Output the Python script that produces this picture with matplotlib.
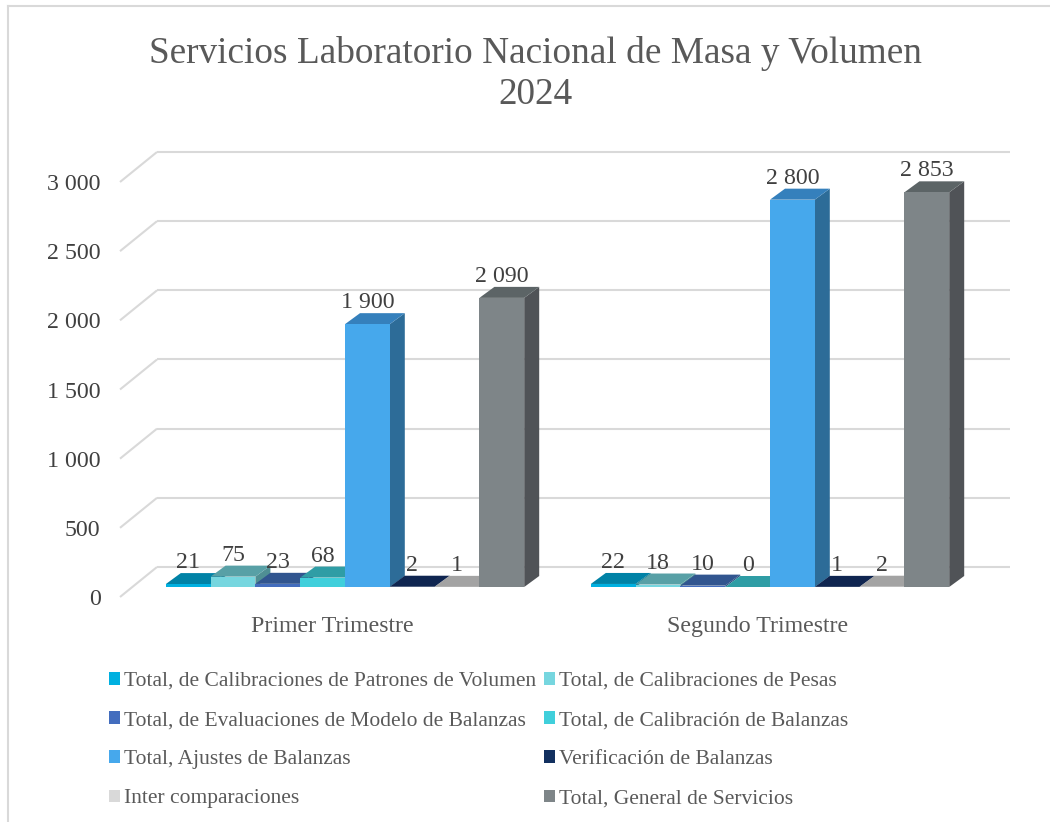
import matplotlib
matplotlib.use("Agg")
import matplotlib.pyplot as plt
from matplotlib.patches import Polygon, Rectangle

plt.rcParams['font.family'] = ['Liberation Serif', 'DejaVu Serif']

# ---- data ----
title = "Servicios Laboratorio Nacional de Masa y Volumen\n2024"
categories = ["Primer Trimestre", "Segundo Trimestre"]
series_names = [
    "Total, de Calibraciones de Patrones de Volumen",
    "Total, de Calibraciones de Pesas",
    "Total, de Evaluaciones de Modelo de Balanzas",
    "Total, de Calibración de Balanzas",
    "Total, Ajustes de Balanzas",
    "Verificación de Balanzas",
    "Inter comparaciones",
    "Total, General de Servicios",
]
primer_trimestre = [21, 75, 23, 68, 1900, 2, 1, 2090]
segundo_trimestre = [22, 18, 10, 0, 2800, 1, 2, 2853]
y_ticks = [0, 500, 1000, 1500, 2000, 2500, 3000]

# ---- style ----
front_colors = ["#00B0E0", "#76D6DF", "#436DBE", "#40CFDB", "#46A8EC", "#12305F", "#D9D9D9", "#7E8588"]
top_colors = ["#0082A6", "#58A0A6", "#31558F", "#2F9DA5", "#3580BC", "#0F2550", "#A3A3A3", "#5C6466"]
side_colors = ["#00708F", "#4F8F94", "#2B4B80", "#2A8D94", "#2D6C98", "#0C1F44", "#8F8F8F", "#505357"]
TEXT = "#595959"
LABEL = "#404040"
GRID = "#D9D9D9"

W, H = 1050, 822
fig = plt.figure(figsize=(W / 100, H / 100), dpi=100, facecolor="white")

# plot area in pixels (front plane of the 3-D box)
LEFT, RIGHT, BASE, TOP3000 = 120, 973, 597, 182
ax = fig.add_axes([LEFT / W, 1 - BASE / H, (RIGHT - LEFT) / W, (BASE - TOP3000) / H])
PX_PER_GROUP = 425
xmin = -0.5
ax.set_xlim(xmin, xmin + (RIGHT - LEFT) / PX_PER_GROUP)
ax.set_ylim(0, 3000)
ax.patch.set_alpha(0)
for s in ax.spines.values():
    s.set_visible(False)

PX_PER_VAL = (BASE - TOP3000) / 3000
def ox(px):
    return px / PX_PER_GROUP
def oy(px):
    return px / PX_PER_VAL

# walls: left-wall diagonals and back-wall gridlines
BACK_DX, BACK_DY = 37, 30
for t in y_ticks:
    ax.plot([xmin, xmin + ox(BACK_DX)], [t, t + oy(BACK_DY)], color=GRID, lw=1.5,
            clip_on=False, solid_capstyle="butt", zorder=1)
    ax.plot([xmin + ox(BACK_DX), ax.get_xlim()[1] + ox(BACK_DX)], [t + oy(BACK_DY)] * 2, color=GRID,
            lw=1.5, clip_on=False, solid_capstyle="butt", zorder=1)

# bars
BAR_W = 44.8 / PX_PER_GROUP
N = len(series_names)
FRONT_DX, FRONT_DY = 12.5, 10
DEPTH_DX, DEPTH_DY = 15, 11
x0, y0 = ox(FRONT_DX), oy(FRONT_DY)
dx, dy = ox(DEPTH_DX), oy(DEPTH_DY)
handles = {}
for g, values in enumerate([primer_trimestre, segundo_trimestre]):
    for i, v in enumerate(values):
        l = g + x0 + (i - N / 2) * BAR_W
        r = l + BAR_W
        z = 3 + i * 0.01
        ax.add_patch(Polygon([(r, y0), (r + dx, y0 + dy), (r + dx, y0 + dy + v), (r, y0 + v)],
                             closed=True, fc=side_colors[i], ec="none", zorder=z, clip_on=False))
        ax.add_patch(Polygon([(l, y0 + v), (r, y0 + v), (r + dx, y0 + dy + v), (l + dx, y0 + dy + v)],
                             closed=True, fc=top_colors[i], ec="none", zorder=z, clip_on=False))
        rect = Rectangle((l, y0), BAR_W, v, fc=front_colors[i], ec="none", zorder=z + 0.001, clip_on=False)
        ax.add_patch(rect)
        handles.setdefault(i, Rectangle((0, 0), 1, 1, fc=front_colors[i], ec="none", label=series_names[i]))
        ax.annotate(f"{v:,}".replace(",", " "), (l + BAR_W / 2, y0 + v), xytext=(0, 21.5 * 0.72),
                    textcoords="offset points", ha="center", va="center", fontsize=17.2,
                    color=LABEL, zorder=10, annotation_clip=False)

# axes text
ax.set_yticks(y_ticks)
ax.set_yticklabels([f"{t:,}".replace(",", " ") for t in y_ticks], fontsize=17.2, color=LABEL)
ax.set_xticks([0, 1])
ax.set_xticklabels(categories, fontsize=17.2, color=TEXT)
ax.tick_params(axis="y", length=0, pad=14)
ax.tick_params(axis="x", length=0, pad=14)

# title
fig.text(535.5 / W, 1 - 74 / H, title, ha="center", va="center", fontsize=26.85, color=TEXT, linespacing=1.22)

# legend, read column by column
order = [0, 2, 4, 6, 1, 3, 5, 7]
fig.legend([handles[i] for i in order], [series_names[i] for i in order], ncol=2,
           loc="upper left", bbox_to_anchor=(109 / W, 1 - 672 / H), bbox_transform=fig.transFigure,
           frameon=False, fontsize=15.5, labelcolor=TEXT, handlelength=0.51, handleheight=0.51,
           handletextpad=0.19, columnspacing=0.37, labelspacing=0.935, borderpad=0, borderaxespad=0)

# chart border
for xs, ys in [((8, 8), (6, 822)), ((8, 1050), (6, 6))]:
    fig.add_artist(plt.Line2D([x / W for x in xs], [1 - y / H for y in ys], color=GRID, lw=1.5))

fig.savefig("out.png", dpi=100)
